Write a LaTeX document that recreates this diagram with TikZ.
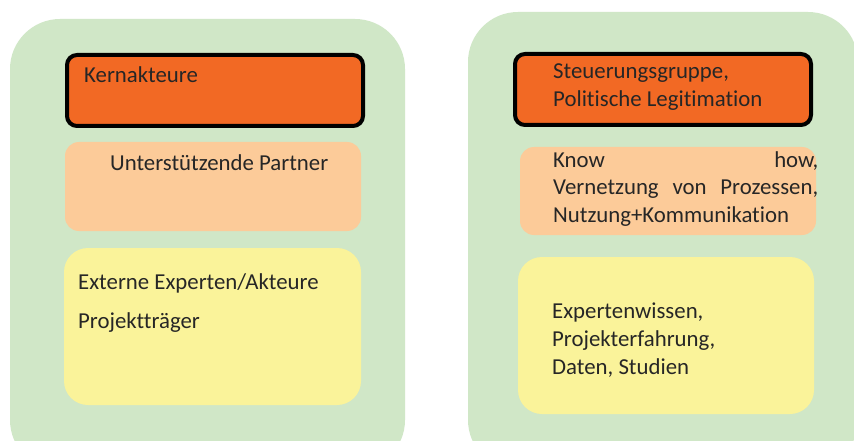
\documentclass[tikz,border=0pt]{standalone}
\usepackage{fontspec}
\setmainfont{Carlito}[Ligatures={NoCommon}]
\definecolor{grn}{RGB}{208,231,199}
\definecolor{org}{RGB}{242,105,36}
\definecolor{pch}{RGB}{252,203,153}
\definecolor{ylw}{RGB}{250,243,154}
\definecolor{txt}{RGB}{38,38,38}
\begin{document}
\begin{tikzpicture}[x=1pt,y=-1pt,
  lbl/.style={anchor=west,inner sep=0pt,text=txt,font=\fontsize{22.8}{27.8}\selectfont,align=left},
  core/.style={fill=org,draw=black,line width=4pt,rounded corners=10pt}]
\useasboundingbox (0,0) rectangle (854,441);
\clip (0,0) rectangle (854,441);
\fill[white] (0,0) rectangle (854,441);
% left column
\fill[grn,rounded corners=50pt] (10,19) rectangle (405,470);
\draw[core] (67,55) rectangle (363,126);
\fill[pch,rounded corners=14pt] (65,142) rectangle (361,231);
\fill[ylw,rounded corners=24pt] (64,248) rectangle (361,405);
\node[lbl] (k) at (84,75) {Kernakteure};
\node[lbl] (u) at (110,163) {Unterstützende Partner};
\node[lbl] (e) at (78,283) {Externe Experten/Akteure};
\node[lbl] (p) at (78,323) {Projektträger};
% right column
\fill[grn,rounded corners=50pt] (468,12) rectangle (858,470);
\draw[core] (515,54) rectangle (811,125);
\fill[pch,rounded corners=14pt] (520,147) rectangle (816,235);
\fill[ylw,rounded corners=24pt] (518,257) rectangle (814,414);
\node[lbl] (s) at (553,87) {Steuerungsgruppe,\\Politische Legitimation};
\node[lbl] (n) at (553,189) {\makebox[265pt][s]{Know how,}\\\makebox[265pt][s]{Vernetzung von Prozessen,}\\Nutzung+Kommunikation};
\node[lbl] (x) at (552,340) {Expertenwissen,\\Projekterfahrung,\\Daten, Studien};
\end{tikzpicture}
\end{document}
